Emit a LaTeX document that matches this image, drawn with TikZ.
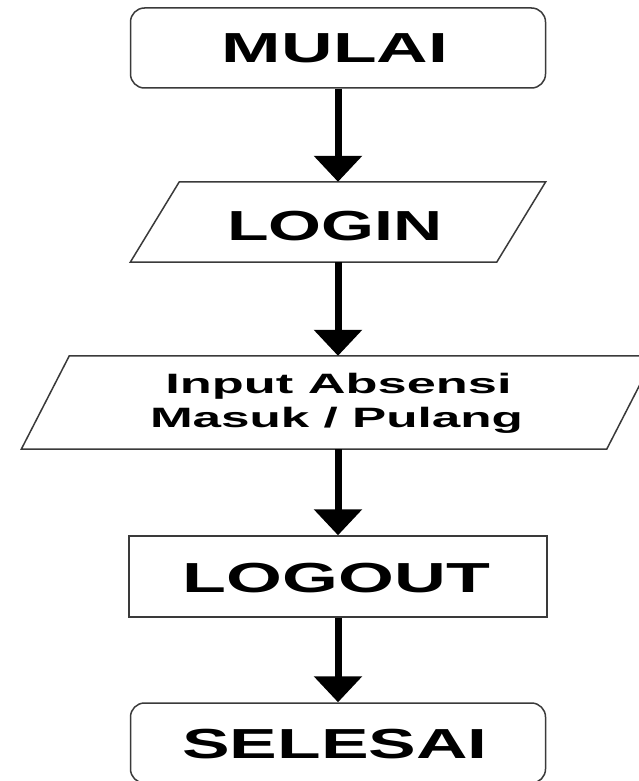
\documentclass[tikz,border=0pt]{standalone}
\usepackage{fontspec}
\usepackage{graphicx}
\setmainfont{Liberation Sans}
\usetikzlibrary{arrows.meta,calc}
\definecolor{edgegray}{HTML}{3A3A3A}
\tikzset{
  shapebox/.style={draw=edgegray,line width=1.5pt,fill=white,inner sep=0pt,anchor=center},
  shapehid/.style={inner sep=0pt,anchor=center},
  bigtext/.style={inner sep=0pt,anchor=base,font=\bfseries\fontsize{42}{50}\selectfont},
  smalltext/.style={inner sep=0pt,anchor=base,font=\bfseries\fontsize{28}{34}\selectfont},
  flowarrow/.style={line width=7pt,-{Triangle[width=47pt,length=26pt]}},
  paraline/.style={draw=edgegray,line width=1.5pt,line join=miter}
}
\begin{document}
\begin{tikzpicture}[x=1pt,y=-1pt]
\useasboundingbox[fill=white] (0,0) rectangle (638,781);
% shapes
\node[shapebox,rounded corners=14pt,minimum width=415pt,minimum height=80pt] (mulai) at (338,48) {};
\node[shapehid,minimum width=415pt,minimum height=80pt] (login) at (338,222) {};
\draw[paraline] ($(login.north west)+(49,0)$) -- (login.north east) -- ($(login.south east)+(-49,0)$) -- (login.south west) -- cycle;
\node[shapehid,minimum width=633pt,minimum height=93pt] (input) at (338,402.5) {};
\draw[paraline] ($(input.north west)+(48,0)$) -- (input.north east) -- ($(input.south east)+(-48,0)$) -- (input.south west) -- cycle;
\node[shapebox,minimum width=418pt,minimum height=81pt] (logout) at (338,576.5) {};
\node[shapebox,rounded corners=14pt,minimum width=415pt,minimum height=80pt] (selesai) at (338,743) {};
% texts
\node[bigtext] (tmulai) at (335,63) {\scalebox{1.7}[1]{MULAI}};
\node[bigtext] (tlogin) at (335,240) {\scalebox{1.62}[1]{LOGIN}};
\node[smalltext] (tin1) at (338.5,393) {\scalebox{1.87}[1]{Input Absensi}};
\node[smalltext] (tin2) at (336.5,427) {\scalebox{1.83}[1]{Masuk / Pulang}};
\node[bigtext] (tlogout) at (336.5,592) {\scalebox{1.71}[1]{LOGOUT}};
\node[bigtext] (tselesai) at (335,758) {\scalebox{1.7}[1]{SELESAI}};
% connectors
\draw[flowarrow] (mulai.south) -- (login.north);
\draw[flowarrow] (login.south) -- (input.north);
\draw[flowarrow] (input.south) -- (logout.north);
\draw[flowarrow] (logout.south) -- (selesai.north);
\end{tikzpicture}
\end{document}
